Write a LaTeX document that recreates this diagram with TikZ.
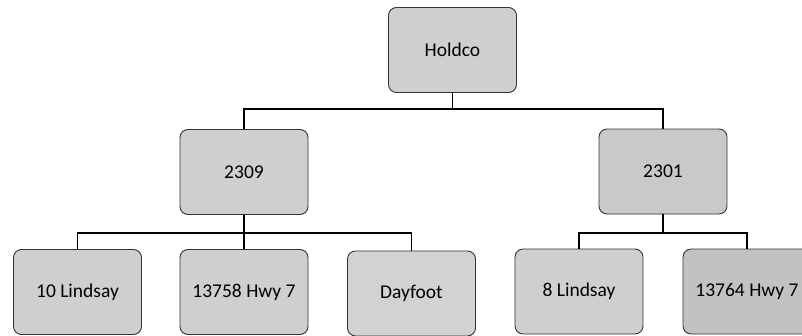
\documentclass[tikz,border=0pt]{standalone}
\usepackage{fontspec}
\setmainfont{Carlito}
\begin{document}
\begin{tikzpicture}[x=1pt,y=-1pt,
  orgbox/.style={draw=black!80, line width=0.9pt, fill=gray!38, rounded corners=8pt,
    minimum width=128pt, minimum height=85pt, inner sep=0pt, font=\fontsize{19.5}{22}\selectfont},
  link/.style={draw=black, line width=1.3pt}]
\clip (0,0) rectangle (802,335);
\useasboundingbox (0,0) rectangle (802,335);
\fill[white] (0,0) rectangle (802,335);
\node[orgbox] (holdco) at (452.5,50) {Holdco};
\node[orgbox] (a) at (244,172) {2309};
\node[orgbox, fill=gray!42] (b) at (663,171.5) {2301};
\node[orgbox] (a1) at (77.5,292) {10 Lindsay};
\node[orgbox] (a2) at (244,292) {13758 Hwy 7};
\node[orgbox, fill=gray!35] (a3) at (411.5,293.5) {Dayfoot};
\node[orgbox] (b1) at (579,291.5) {8 Lindsay};
\node[orgbox, fill=gray!48] (b2) at (747,291.5) {13764 Hwy 7};
\coordinate (bar1) at (0,109);
\coordinate (bar2) at (0,233);
\draw[link] (holdco.south) -- (holdco.south |- bar1) -| (a.north);
\draw[link] (holdco.south |- bar1) -| (b.north);
\draw[link] (a.south) -- (a.south |- bar2) -| (a1.north);
\draw[link] (a.south |- bar2) -- (a2.north);
\draw[link] (a.south |- bar2) -| (a3.north);
\draw[link] (b.south) -- (b.south |- bar2) -| (b1.north);
\draw[link] (b.south |- bar2) -| (b2.north);
\end{tikzpicture}
\end{document}
